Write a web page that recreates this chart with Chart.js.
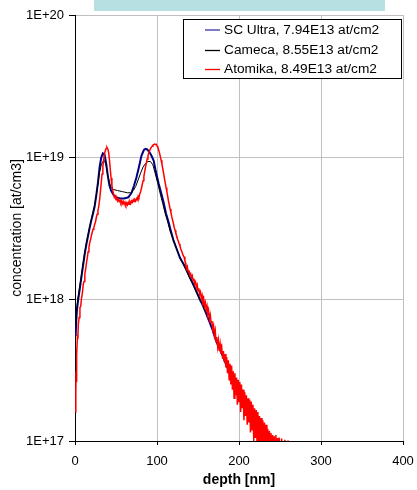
<!DOCTYPE html>
<html><head><meta charset="utf-8">
<script src="https://cdn.jsdelivr.net/npm/chart.js@4.4.0/dist/chart.umd.min.js"></script>
<style>html,body{margin:0;padding:0;background:#fff;overflow:hidden}#wrap{width:417px;height:490px;position:relative}</style>
</head><body><div id="wrap"><canvas id="c" width="417" height="490"></canvas></div>
<script>
const seriesNames = ['SC Ultra, 7.94E13 at/cm2', 'Cameca, 8.55E13 at/cm2', 'Atomika, 8.49E13 at/cm2'];
const seriesColors = ['#000080', '#000000', '#ff0000'];
const legendLineColors = ['#7c7cc4', '#000000', '#ff0000'];

const scDepth = [0.8,1.5,2.5,4,6,8,10,12,14,16,18,20,22,24,26,28,30,32,34,36,38,40,42,44,47,50,55,60,65,69,72,75,78,81,84,86,88,91,94,96,98,100,102,105,108,111,114,117,120,124,128,132,136,140,144,148,152,156,160,164,168,172,176,180,184,188];
const scConc = [5.5e17,7.0e17,8.5e17,1.0e18,1.2e18,1.45e18,1.75e18,2.1e18,2.45e18,2.8e18,3.2e18,3.6e18,4.0e18,4.5e18,5.4e18,6.6e18,8.5e18,9.9e18,1.06e19,1.04e19,9.0e18,7.4e18,6.3e18,5.8e18,5.4e18,5.2e18,5.1e18,5.1e18,5.2e18,5.6e18,6.3e18,7.2e18,8.5e18,1.02e19,1.12e19,1.14e19,1.13e19,1.08e19,1.0e19,9.4e18,8.2e18,7.3e18,6.5e18,5.6e18,4.8e18,4.0e18,3.5e18,3.0e18,2.6e18,2.25e18,1.95e18,1.78e18,1.6e18,1.42e18,1.28e18,1.13e18,1.0e18,9.0e17,7.9e17,6.9e17,6.0e17,5.1e17,4.5e17,4.0e17,3.5e17,3.1e17];

const camecaDepth = [1,2,4,6,8,10,12,14,16,18,20,22,24,26,28,30,32,34,36,38,40,42,44,47,52,58,64,68,71,74,77,80,83,86,89,92,95,98,101,104,107,110,113,116,120,124,128,132,136,140,145,150,155,160];
const camecaConc = [6.5e17,8.5e17,1.05e18,1.25e18,1.5e18,1.8e18,2.15e18,2.5e18,2.85e18,3.25e18,3.65e18,4.1e18,4.6e18,5.4e18,6.5e18,7.8e18,8.8e18,9.3e18,9.4e18,8.7e18,7.4e18,6.6e18,6.1e18,5.9e18,5.8e18,5.7e18,5.6e18,5.6e18,5.8e18,6.2e18,6.9e18,7.7e18,8.5e18,9.0e18,9.3e18,9.3e18,8.8e18,7.6e18,6.5e18,5.5e18,4.7e18,4.0e18,3.5e18,3.0e18,2.6e18,2.25e18,1.95e18,1.76e18,1.58e18,1.4e18,1.22e18,1.06e18,9.3e17,8.0e17];

const atomikaDepth = [0.6,1.0,1.3,1.6,2.0,2.4,3,3.5,4,5,6,7,8,9,10,11,12,13,14,15,16,17,18,19,20,21,22,23,24,25,26,27,28,29,30,31,32,33,34,35,36,37,38,39,40,41,42,43,44,45,46,47,48,49,50,51,52,53,54,55,56,57,58,59,60,61,62,63,64,65,66,67,68,69,70,71,72,73,74,75,76,77,78,79,80,81,82,83,84,85,86,87,88,89,90,91,92,93,94,95,96,97,98,99,100,101,102,103,104,105,106,107,108,109,110,111,112,113,114,115,116,117,118,119,120,121,122,123,124,125,126,127,128,129,130,131,132,133,134,135,136,137,138,139,140,141,142,143,144,145,146,147,148,149,150,151,152,153,154,155,156,157,158,159,160,161,162,163,164,165,166,167,168,169,170,171,172,173,174,175,176,177,178,179,180,181,182,183,184,185,186,187,188,189,190,191,192,193,194,195,196,197,198,199,200,201,202,203,204,205,206,207,208,209,210,211,212,213,214,215,216,217,218,219,220,221,222,223,224,225,226,227,228,229,230,231,232,233,234,235,236,237,238,239,240,241,242,243,244,245,246,247,248,249,250,252,254,256,258,260];
const atomikaConc = [
  1.6e17,2.2e17,3.1e17,2.6e17,4.4e17,4.0e17,5.6e17,5.2e17,6.6e17,
  7.4e17,8.7e17,8.9e17,1.02e18,1.1e18,1.26e18,1.33e18,1.5e18,1.62e18,1.8e18,
  1.95e18,2.15e18,2.3e18,2.5e18,2.62e18,2.8e18,2.95e18,3.1e18,3.2e18,3.35e18,
  3.5e18,3.75e18,3.95e18,4.2e18,4.5e18,5.0e18,5.7e18,6.6e18,7.6e18,8.6e18,
  9.6e18,1.05e19,1.11e19,1.15e19,1.17e19,1.14e19,1.08e19,9.6e18,8.2e18,7.1e18,
  6.3e18,5.8e18,5.5e18,5.2e18,5.3e18,5.0e18,5.1e18,4.9e18,5.05e18,4.85e18,
  4.95e18,4.75e18,4.9e18,4.7e18,4.85e18,4.65e18,4.8e18,4.6e18,4.75e18,4.6e18,
  4.8e18,4.65e18,4.85e18,4.7e18,4.9e18,4.8e18,5.0e18,4.85e18,5.0e18,4.9e18,
  5.1e18,5.0e18,5.3e18,5.2e18,5.5e18,5.7e18,6.0e18,6.4e18,6.8e18,7.3e18,
  7.9e18,8.5e18,9.1e18,9.7e18,1.02e19,1.07e19,1.11e19,1.14e19,1.17e19,1.19e19,
  1.21e19,1.22e19,1.23e19,1.22e19,1.23e19,1.2e19,1.17e19,1.12e19,1.07e19,1.01e19,
  9.5e18,8.9e18,8.3e18,7.7e18,7.1e18,6.6e18,6.1e18,5.7e18,5.3e18,4.9e18,
  4.6e18,4.3e18,4.05e18,3.8e18,3.6e18,3.4e18,3.2e18,3.05e18,2.9e18,2.78e18,
  2.65e18,2.55e18,2.45e18,2.37e18,2.25e18,2.18e18,2.1e18,2.02e18,1.98e18,1.86e18,
  1.79e18,1.64e18,1.69e18,1.56e18,1.59e18,1.48e18,1.51e18,1.42e18,1.46e18,1.35e18,
  1.39e18,1.28e18,1.32e18,1.21e18,1.26e18,1.14e18,1.19e18,1.08e18,1.12e18,1.01e18,
  1.06e18,9.5e17,1.0e18,8.9e17,9.4e17,8.4e17,8.9e17,7.8e17,8.2e17,7.2e17,
  7.7e17,6.8e17,7.0e17,6.1e17,6.5e17,5.6e17,6.0e17,5.0e17,5.4e17,4.6e17,
  5.1e17,4.3e17,4.8e17,4.1e17,4.5e17,3.8e17,4.3e17,3.6e17,4.1e17,3.3e17,
  3.9e17,3.0e17,3.7e17,2.7e17,3.5e17,2.5e17,3.4e17,2.3e17,3.1e17,2.0e17,
  3.0e17,2.1e17,2.8e17,1.8e17,2.7e17,1.9e17,2.6e17,1.6e17,2.5e17,1.7e17,
  2.3e17,1.4e17,2.2e17,1.5e17,2.1e17,1.3e17,2.0e17,1.35e17,1.95e17,1.15e17,
  1.9e17,1.2e17,1.8e17,1.0e17,1.7e17,1.05e17,1.65e17,9.5e16,1.6e17,1.0e17,
  1.5e17,8.5e16,1.45e17,9.0e16,1.4e17,8.0e16,1.35e17,8.5e16,1.3e17,7.5e16,
  1.22e17,8.0e16,1.18e17,7.0e16,1.14e17,7.5e16,1.1e17,7.0e16,1.08e17,6.5e16,
  1.1e17,7.0e16,1.05e17,6.0e16,1.06e17,7.0e16,
  1.04e17,6.0e16,1.02e17,7.0e16,1.01e17
];

const xTickValues = [0,100,200,300,400];
const yTickValues = [1e17,1e18,1e19,1e20];
const yTickLabels = ['1E+17','1E+18','1E+19','1E+20'];
const xTitle = 'depth [nm]';
const yTitle = 'concentration [at/cm3]';

const FONT = '"Liberation Sans", Arial, sans-serif';
function pts(d, v) { return d.map((x, i) => ({x: x, y: v[i]})); }

const legendPlugin = {
  id: 'boxLegend',
  afterDraw(chart) {
    const ctx = chart.ctx;
    ctx.save();
    ctx.fillStyle = '#b7e0e2';
    ctx.fillRect(94, 0, 291, 11);
    ctx.fillStyle = '#ffffff';
    ctx.fillRect(183.5, 19.5, 218, 59);
    ctx.strokeStyle = '#000';
    ctx.lineWidth = 1;
    ctx.strokeRect(183.5, 19.5, 218, 59);
    const rows = [30, 49.5, 69];
    ctx.font = '13.7px ' + FONT;
    ctx.textBaseline = 'middle';
    ctx.textAlign = 'left';
    seriesNames.forEach((n, i) => {
      ctx.strokeStyle = legendLineColors[i];
      ctx.lineWidth = i === 0 ? 2 : 1.3;
      ctx.beginPath();
      const yy = i === 0 ? rows[i] : Math.round(rows[i]) + 0.5;
      ctx.moveTo(205, yy);
      ctx.lineTo(220, yy);
      ctx.stroke();
      ctx.fillStyle = '#000';
      ctx.fillText(n, 224, rows[i] + 0.5);
    });
    ctx.restore();
  }
};

new Chart(document.getElementById('c'), {
  type: 'line',
  data: {
    datasets: [
      {label: seriesNames[0], data: pts(scDepth, scConc), borderColor: seriesColors[0], borderWidth: 2, order: 3},
      {label: seriesNames[1], data: pts(camecaDepth, camecaConc), borderColor: seriesColors[1], borderWidth: 1, order: 2},
      {label: seriesNames[2], data: pts(atomikaDepth, atomikaConc), borderColor: seriesColors[2], borderWidth: 1.5, order: 1}
    ]
  },
  options: {
    responsive: false,
    animation: false,
    devicePixelRatio: 1,
    layout: {padding: {top: 15, right: 14, left: 0, bottom: 0}},
    elements: {point: {radius: 0}, line: {tension: 0, fill: false}},
    plugins: {legend: {display: false}, tooltip: {enabled: false}, title: {display: false}},
    scales: {
      x: {
        type: 'linear', min: 0, max: 400,
        afterFit(s) { s.height = 49; s.paddingLeft = 0; s.paddingRight = 0; },
        afterBuildTicks(s) { s.ticks = xTickValues.map(v => ({value: v})); },
        ticks: {font: {family: FONT, size: 13}, color: '#000', padding: 9, maxRotation: 0, callback: v => String(v)},
        grid: {color: '#c0c0c0', tickColor: '#000', tickLength: 4, drawTicks: true},
        border: {color: '#000', width: 1},
        title: {display: true, text: xTitle, font: {family: FONT, size: 14, weight: 'bold'}, color: '#000', padding: {top: 0, bottom: 1}}
      },
      y: {
        type: 'logarithmic', min: 1e17, max: 1e20,
        afterFit(s) { s.width = 75; s.paddingTop = 0; s.paddingBottom = 0; },
        afterBuildTicks(s) { s.ticks = yTickValues.map(v => ({value: v})); },
        ticks: {font: {family: FONT, size: 13}, color: '#000', padding: 5, callback: (v) => { const i = yTickValues.indexOf(v); return i >= 0 ? yTickLabels[i] : ''; }},
        grid: {color: '#c0c0c0', tickColor: '#000', tickLength: 6, drawTicks: true},
        border: {color: '#000', width: 1},
        title: {display: true, text: yTitle, font: {family: FONT, size: 14}, color: '#000', padding: {top: 9, bottom: 0}}
      }
    }
  },
  plugins: [legendPlugin]
});
</script></body></html>
